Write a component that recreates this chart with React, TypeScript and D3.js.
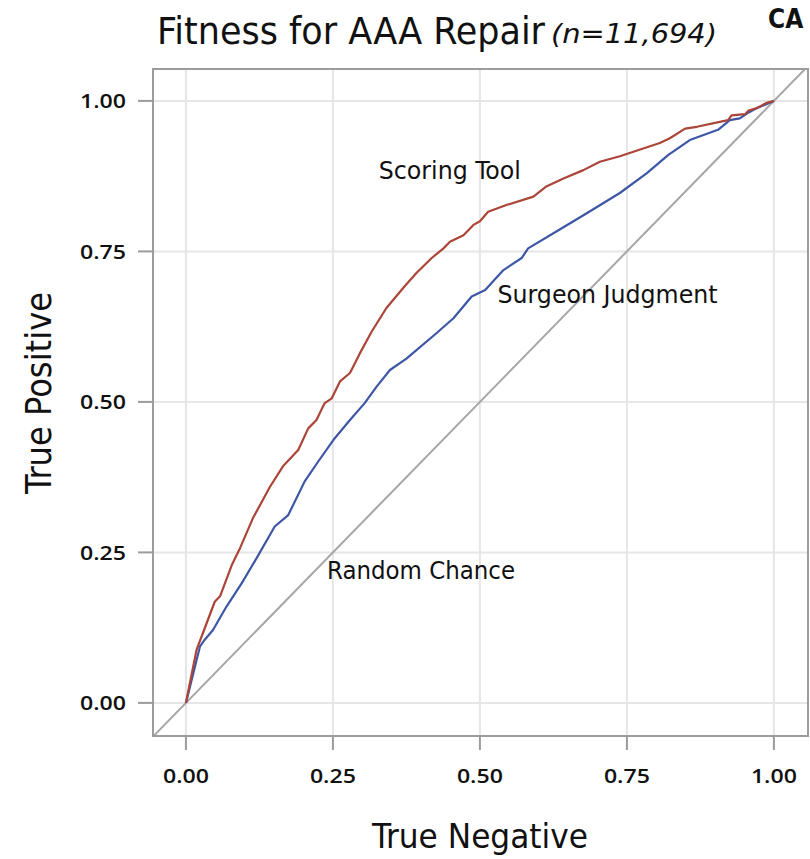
import React from "react";
import * as d3 from "d3";

const tickValues = [0, 0.25, 0.5, 0.75, 1];
const tickLabels = ["0.00", "0.25", "0.50", "0.75", "1.00"];

const scoringToolX = [0, 0.018, 0.032, 0.049, 0.058, 0.078, 0.092, 0.114, 0.143, 0.165, 0.191, 0.208, 0.222, 0.236, 0.248, 0.262, 0.279, 0.296, 0.316, 0.341, 0.372, 0.392, 0.418, 0.438, 0.449, 0.472, 0.489, 0.5, 0.514, 0.545, 0.591, 0.613, 0.642, 0.676, 0.704, 0.738, 0.806, 0.823, 0.849, 0.869, 0.922, 0.928, 0.951, 0.957, 0.971, 0.988, 1];
const scoringToolY = [0, 0.088, 0.124, 0.168, 0.177, 0.229, 0.257, 0.307, 0.359, 0.393, 0.42, 0.456, 0.47, 0.498, 0.506, 0.534, 0.548, 0.581, 0.617, 0.656, 0.692, 0.714, 0.739, 0.755, 0.766, 0.777, 0.794, 0.8, 0.816, 0.827, 0.841, 0.858, 0.871, 0.885, 0.899, 0.908, 0.93, 0.938, 0.954, 0.957, 0.968, 0.976, 0.978, 0.984, 0.988, 0.997, 1];

const surgeonX = [0, 0.024, 0.032, 0.046, 0.069, 0.095, 0.12, 0.151, 0.174, 0.202, 0.225, 0.251, 0.279, 0.304, 0.324, 0.347, 0.375, 0.426, 0.455, 0.486, 0.509, 0.54, 0.571, 0.582, 0.63, 0.681, 0.738, 0.784, 0.82, 0.857, 0.905, 0.925, 0.942, 0.954, 0.971, 1];
const surgeonY = [0, 0.094, 0.105, 0.121, 0.16, 0.199, 0.24, 0.293, 0.312, 0.368, 0.401, 0.437, 0.47, 0.498, 0.525, 0.553, 0.572, 0.614, 0.639, 0.675, 0.686, 0.719, 0.739, 0.755, 0.783, 0.813, 0.847, 0.88, 0.91, 0.935, 0.952, 0.968, 0.971, 0.979, 0.988, 1];

const annotations = [
  { text: "Scoring Tool", x: 0.328, y: 0.885, len: 142 },
  { text: "Surgeon Judgment", x: 0.53, y: 0.679, len: 220 },
  { text: "Random Chance", x: 0.24, y: 0.22, len: 188 },
];

const RED = "#ab4538";
const BLUE = "#3e56a6";
const FONT = "'DejaVu Sans Condensed', 'DejaVu Sans', Verdana, sans-serif";
const TICKFONT = "'Open Sans', 'Noto Sans', sans-serif";

export default function App() {
  const W = 810, H = 859;
  const left = 153, right = 808, top = 69, bottom = 736;
  const x = d3.scaleLinear().domain([-0.056, 1.058]).range([left, right]);
  const y = d3.scaleLinear().domain([-0.055, 1.053]).range([bottom, top]);

  const line = d3.line<[number, number]>().x((d) => x(d[0])).y((d) => y(d[1]));
  const toolPts = scoringToolX.map((v, i) => [v, scoringToolY[i]] as [number, number]);
  const surgPts = surgeonX.map((v, i) => [v, surgeonY[i]] as [number, number]);
  const d0 = x.domain()[0];
  const d1 = Math.min(x.domain()[1], y.domain()[1]);
  const diag = line([[d0, d0], [d1, d1]]);

  return (
    <svg width={W} height={H} style={{ position: "absolute", left: 0, top: 0, background: "#fff" }}>
      <defs>
        <clipPath id="plotclip">
          <rect x={left} y={top} width={right - left} height={bottom - top} />
        </clipPath>
      </defs>
      <rect x={0} y={0} width={W} height={H} fill="#fff" />
      {/* title */}
      <text x={157} y={44} fontFamily={FONT} fontStretch="condensed" fontSize={37} fill="#111" textLength={388} lengthAdjust="spacingAndGlyphs">
        Fitness for AAA Repair
      </text>
      <text x={551} y={43} fontFamily={FONT} fontStretch="condensed" fontSize={26} fontStyle="italic" fill="#111" textLength={166} lengthAdjust="spacingAndGlyphs">
        (n=11,694)
      </text>
      <text x={768} y={28} fontFamily={FONT} fontSize={26} fontWeight="bold" fill="#111">
        CA
      </text>

      {/* grid */}
      {tickValues.map((t) => (
        <g key={"g" + t}>
          <line x1={x(t)} x2={x(t)} y1={top} y2={bottom} stroke="#e6e6e6" strokeWidth={2} />
          <line x1={left} x2={right} y1={y(t)} y2={y(t)} stroke="#e6e6e6" strokeWidth={2} />
        </g>
      ))}

      {/* curves */}
      <g clipPath="url(#plotclip)">
        <path d={diag || ""} fill="none" stroke="#a6a6a6" strokeWidth={2} />
        <path d={line(surgPts) || ""} fill="none" stroke={BLUE} strokeWidth={2.2} strokeLinejoin="round" />
        <path d={line(toolPts) || ""} fill="none" stroke={RED} strokeWidth={2.2} strokeLinejoin="round" />
      </g>

      {/* frame */}
      <rect x={left} y={top} width={right - left} height={bottom - top} fill="none" stroke="#9c9c9c" strokeWidth={2} />

      {/* ticks */}
      {tickValues.map((t, i) => (
        <g key={"t" + t}>
          <line x1={left - 15} x2={left} y1={y(t)} y2={y(t)} stroke="#9c9c9c" strokeWidth={2} />
          <text x={126} y={y(t)} dy="0.36em" textAnchor="end" fontFamily={TICKFONT} fontWeight={600} fontSize={20} fill="#111" textLength={46} lengthAdjust="spacingAndGlyphs">
            {tickLabels[i]}
          </text>
          <line x1={x(t)} x2={x(t)} y1={bottom} y2={bottom + 14} stroke="#9c9c9c" strokeWidth={2} />
          <text x={x(t)} y={776} dy="0.36em" textAnchor="middle" fontFamily={TICKFONT} fontWeight={600} fontSize={20} fill="#111" textLength={46} lengthAdjust="spacingAndGlyphs">
            {tickLabels[i]}
          </text>
        </g>
      ))}

      {/* annotations */}
      {annotations.map((a) => (
        <text key={a.text} x={x(a.x)} y={y(a.y)} dy="0.36em" fontFamily={FONT} fontStretch="condensed" fontSize={24} fill="#111" textLength={a.len} lengthAdjust="spacingAndGlyphs">
          {a.text}
        </text>
      ))}

      {/* axis titles */}
      <text x={480} y={848} textAnchor="middle" fontFamily={FONT} fontStretch="condensed" fontSize={34} fill="#111" textLength={216} lengthAdjust="spacingAndGlyphs">
        True Negative
      </text>
      <text transform={`translate(38,393) rotate(-90)`} textAnchor="middle" dy="0.36em" fontFamily={FONT} fontStretch="condensed" fontSize={35} fill="#111" textLength={202} lengthAdjust="spacingAndGlyphs">
        True Positive
      </text>
    </svg>
  );
}
